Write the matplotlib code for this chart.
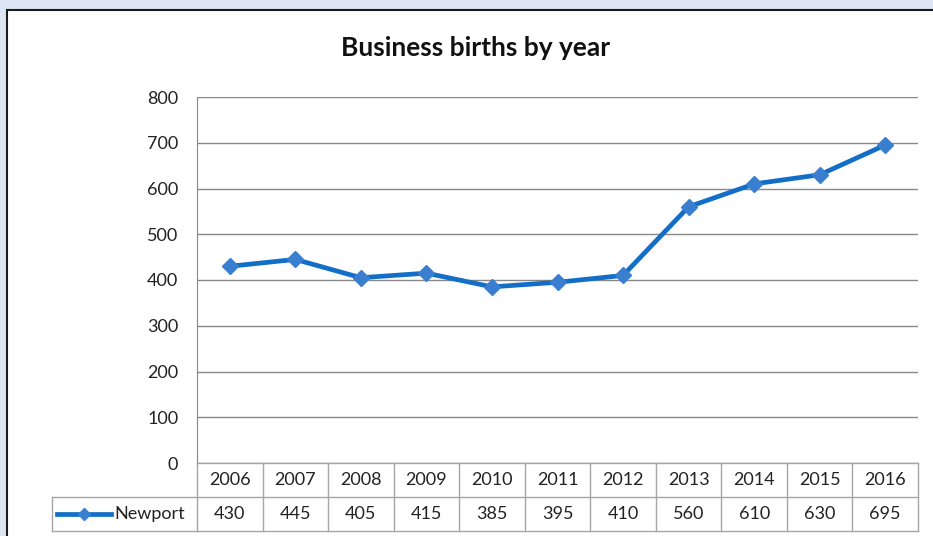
import matplotlib.pyplot as plt
from matplotlib.lines import Line2D
from matplotlib.patches import Rectangle
import matplotlib.transforms as mtrans

years = ["2006", "2007", "2008", "2009", "2010", "2011", "2012", "2013", "2014", "2015", "2016"]
newport = [430, 445, 405, 415, 385, 395, 410, 560, 610, 630, 695]
series_name = "Newport"
title = "Business births by year"

W, H = 933, 536
plt.rcParams['font.family'] = ['Lato', 'DejaVu Sans']

fig = plt.figure(figsize=(W / 100, H / 100), dpi=100)
fig.patch.set_facecolor('#dce6f2')


def fx(x):
    return x / W


def fy(y):
    return 1 - y / H


# white chart panel with dark border
fig.patches.append(Rectangle((fx(7), fy(H + 5)), fx(W), fy(10) - fy(H + 5),
                             transform=fig.transFigure, facecolor='white',
                             edgecolor='#1a1a1a', linewidth=1.5, zorder=-5))

line_col = '#126ec6'
mark_col = '#3a7fcf'
grid_col = '#888888'
tab_col = '#a6a6a6'
txt_col = '#222222'
fs = 13

ax = fig.add_axes([fx(197), fy(463), fx(918 - 197), fy(97) - fy(463)])
ax.set_facecolor('none')
x = list(range(len(years)))
ax.plot(x, newport, color=line_col, linewidth=3.4, marker='D', markersize=8,
        markerfacecolor=mark_col, markeredgecolor=mark_col, zorder=3)
ax.set_xlim(-0.5, len(years) - 0.5)
ax.set_ylim(0, 800)
ax.set_yticks(range(0, 801, 100))
ax.set_xticks([])
ax.yaxis.grid(True, color=grid_col, linewidth=1)
ax.set_axisbelow(True)
for s in ['top', 'right', 'bottom']:
    ax.spines[s].set_visible(False)
ax.spines['left'].set_color(grid_col)
ax.tick_params(axis='y', length=0, pad=13.5, labelsize=fs, labelcolor=txt_col)

fig.text(fx(476), fy(48), title, ha='center', va='center', fontsize=19,
         fontweight='bold', color='#111111')

# data table
tr = mtrans.blended_transform_factory(ax.transData, fig.transFigure)
n = len(years)
for yy in [463, 497, 531]:
    fig.lines.append(Line2D([-0.5, n - 0.5], [fy(yy), fy(yy)], transform=tr,
                            color=tab_col, linewidth=1))
for i in range(n + 1):
    fig.lines.append(Line2D([i - 0.5, i - 0.5], [fy(463), fy(531)], transform=tr,
                            color=tab_col, linewidth=1))
for yy in [497, 531]:
    fig.lines.append(Line2D([fx(52), fx(197)], [fy(yy), fy(yy)],
                            transform=fig.transFigure, color=tab_col, linewidth=1))
fig.lines.append(Line2D([fx(52), fx(52)], [fy(497), fy(531)],
                        transform=fig.transFigure, color=tab_col, linewidth=1))

for i in range(n):
    fig.text(i, fy(480), years[i], transform=tr, ha='center', va='center',
             fontsize=fs, color=txt_col)
    fig.text(i, fy(514), str(newport[i]), transform=tr, ha='center', va='center',
             fontsize=fs, color=txt_col)

# legend key
fig.lines.append(Line2D([fx(57), fx(111)], [fy(514), fy(514)], transform=fig.transFigure,
                        color=line_col, linewidth=3.4))
fig.lines.append(Line2D([fx(84)], [fy(514)], transform=fig.transFigure, marker='D',
                        markersize=6.5, color=mark_col, linestyle='none'))
fig.text(fx(114), fy(514), series_name, ha='left', va='center', fontsize=fs,
         color=txt_col)

fig.savefig('out.png', dpi=100, facecolor=fig.get_facecolor())
